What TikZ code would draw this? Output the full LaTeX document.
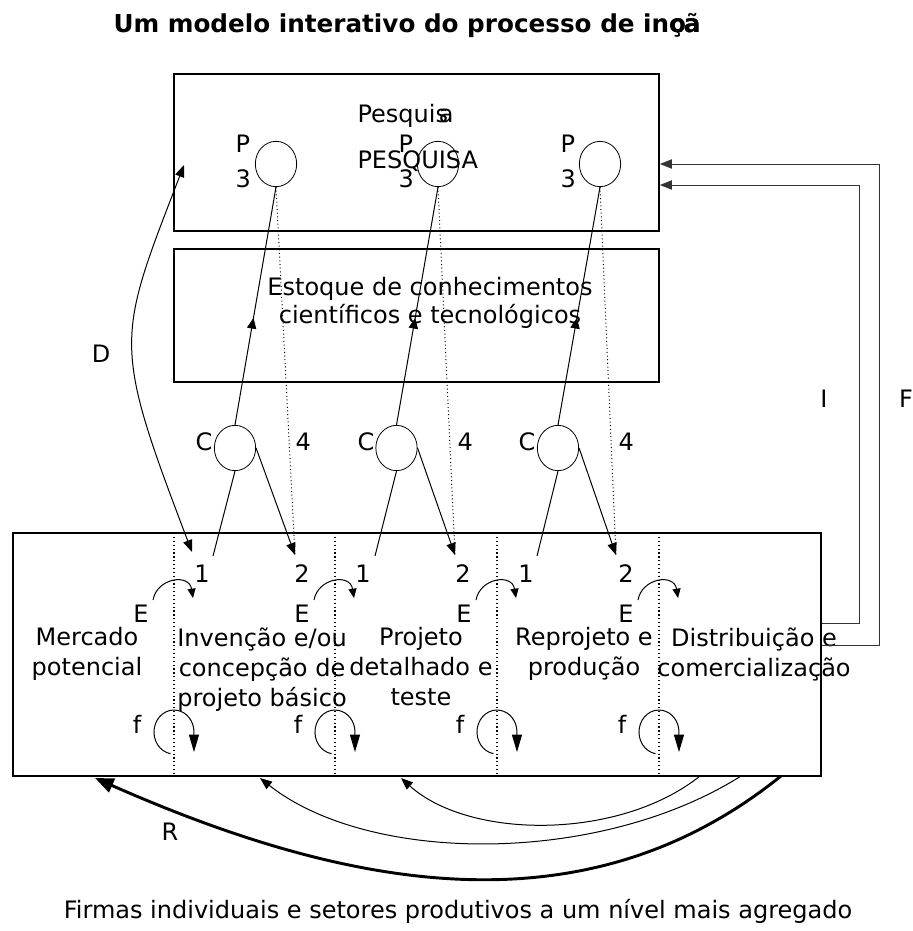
\documentclass[tikz,border=0pt]{standalone}
\usepackage{fontspec}
\setmainfont{DejaVu Sans}
\usetikzlibrary{arrows.meta,shapes.geometric,decorations.markings,positioning}

\begin{document}
\begin{tikzpicture}[x=0.75pt,y=-0.75pt,>={Triangle[length=9pt,width=7pt]},
    font=\fontsize{18}{22.5}\selectfont,line width=0.75pt,
    box/.style={draw,line width=1.4pt,inner sep=0},
    bubble/.style={draw,ellipse,line width=0.6pt,minimum width=31pt,minimum height=34pt,inner sep=0},
    lbl/.style={inner sep=0,anchor=base},
    stage/.style={inner sep=0,anchor=north,align=center},
    sep/.style={dotted,line width=0.9pt},
    fb/.style={draw=black!80,line width=0.7pt},
    smalltip/.style={-{Triangle[length=7pt,width=6pt]}},
    looptip/.style={-{Triangle[length=13pt,width=7.5pt]}},
    midarrow/.style={postaction={decorate},decoration={markings,mark=at position #1 with {\arrow{Triangle[length=8pt,width=7pt]}}}}]

  \useasboundingbox (0,0) rectangle (913,931);

  \node[lbl,anchor=base west,font=\fontsize{18.5}{22}\selectfont\bfseries] (title) at (113,33) {Um modelo interativo do processo de in\rlap{o}ç\rlap{ã}a};

  % caixas
  \node[box,minimum width=363.75pt,minimum height=117.75pt] (res) at (416.5,152.5) {};
  \node[box,minimum width=363.75pt,minimum height=99.75pt] (stock) at (416.5,315.5) {};
  \node[box,minimum width=606pt,minimum height=182.25pt] (firm) at (417,654.5) {};

  \node[lbl,anchor=base west] (pesq) at (357,122) {Pesqui\rlap{s}\kern2.5pt a};
  \node[lbl,anchor=base west] (PESQ) at (357,168) {PESQUISA};
  \node[stage,font=\fontsize{18}{21}\selectfont] (stocktxt) at (430,277) {Estoque de conhecimentos\\científicos e tecnológicos};

  % pesquisa
  \node[bubble] (p1) at (276,164) {};
  \node[bubble] (p2) at (438,164) {};
  \node[bubble] (p3) at (600,164) {};
  \node[inner sep=0,anchor=north west,align=left,font=\fontsize{18}{26.25}\selectfont] (pl1) at (235,134.5) {P\\3};
  \node[inner sep=0,anchor=north west,align=left,font=\fontsize{18}{26.25}\selectfont] (pl2) at (398,134.5) {P\\3};
  \node[inner sep=0,anchor=north west,align=left,font=\fontsize{18}{26.25}\selectfont] (pl3) at (560,134.5) {P\\3};

  % conhecimento
  \node[bubble] (c1) at (235,448) {};
  \node[bubble] (c2) at (396.5,448) {};
  \node[bubble] (c3) at (558,448) {};
  \node[lbl,anchor=base west] (cl1) at (195,450) {C};
  \node[lbl,anchor=base west] (cl2) at (357,450) {C};
  \node[lbl,anchor=base west] (cl3) at (518,450) {C};
  \node[lbl,anchor=base west] (q1) at (295,450) {4};
  \node[lbl,anchor=base west] (q2) at (457,450) {4};
  \node[lbl,anchor=base west] (q3) at (618,450) {4};

  % etapas
  \draw[sep] (174,537) -- (174,776);
  \draw[sep] (335,537) -- (335,776);
  \draw[sep] (497,537) -- (497,776);
  \draw[sep] (659,537) -- (659,776);

  \node[stage] (mercado) at (87,627) {Mercado\\potencial};
  \node[stage] (invencao) at (262,627) {Invenção e/ou\\concepção de\\projeto básico};
  \node[stage] (projeto) at (421,627) {Projeto\\detalhado e\\teste};
  \node[stage] (reproj) at (584,627) {Reprojeto e\\produção};
  \node[stage] (distrib) at (754,627) {Distribuição e\\comercialização};

  \node[lbl] (one1) at (202,582) {1};
  \node[lbl] (one2) at (363,582) {1};
  \node[lbl] (one3) at (526,582) {1};
  \node[lbl] (two1) at (302,582) {2};
  \node[lbl] (two2) at (463,582) {2};
  \node[lbl] (two3) at (626,582) {2};

  \coordinate (a1) at (213,556);
  \coordinate (a2) at (375,556);
  \coordinate (a3) at (537,556);
  \coordinate (b1) at (295,555);
  \coordinate (b2) at (455,555);
  \coordinate (b3) at (616,555);

  \draw[midarrow=0.45] (c1.north) -- (p1.south);
  \draw[midarrow=0.45] (c2.north) -- (p2.south);
  \draw[midarrow=0.45] (c3.north) -- (p3.south);
  \draw (c1.south) -- (a1);
  \draw (c2.south) -- (a2);
  \draw (c3.south) -- (a3);
  \draw[->] (c1.east) -- (b1);
  \draw[->] (c2.east) -- (b2);
  \draw[->] (c3.east) -- (b3);
  \draw[dotted] (p1.south) -- (b1);
  \draw[dotted] (p2.south) -- (b2);
  \draw[dotted] (p3.south) -- (b3);

  % D
  \coordinate (dtop) at (184,165);
  \coordinate (dbot) at (192,552);
  \draw[<->] (dbot) .. controls (112,342) and (116.5,340) .. (dtop);
  \node[lbl] (D) at (101,362) {D};

  % E
  \node[lbl] (e1) at (141,622) {E};
  \node[lbl] (e2) at (302,622) {E};
  \node[lbl] (e3) at (464,622) {E};
  \node[lbl] (e4) at (626,622) {E};
  \draw[smalltip] (153,600) .. controls (157,578) and (189,573) .. (193,598);
  \draw[smalltip] (314,600) .. controls (318,578) and (350,573) .. (354,598);
  \draw[smalltip] (476,600) .. controls (480,578) and (512,573) .. (516,598);
  \draw[smalltip] (638,600) .. controls (642,578) and (674,573) .. (678,598);

  % f
  \node[lbl] (f1) at (137,733) {f};
  \node[lbl] (f2) at (298,733) {f};
  \node[lbl] (f3) at (460,733) {f};
  \node[lbl] (f4) at (622,733) {f};
  \draw[looptip] (170.5,753.7) arc[start angle=100,end angle=360,x radius=20,y radius=22] -- ++(0,20);
  \draw[looptip] (331.5,753.7) arc[start angle=100,end angle=360,x radius=20,y radius=22] -- ++(0,20);
  \draw[looptip] (493.5,753.7) arc[start angle=100,end angle=360,x radius=20,y radius=22] -- ++(0,20);
  \draw[looptip] (655.5,753.7) arc[start angle=100,end angle=360,x radius=20,y radius=22] -- ++(0,20);

  % I e F
  \draw[fb,->] (firm.east |- 0,623) -| (859,185) -- (res.east |- 0,185);
  \draw[fb,->] (firm.east |- 0,645) -| (879,164) -- (res.east |- 0,164);
  \node[lbl] (I) at (824,407) {I};
  \node[lbl] (F) at (906,407) {F};

  % R
  \coordinate (rs1) at (700,776);
  \coordinate (rs2) at (741,776);
  \coordinate (rs3) at (781,776);
  \coordinate (re1) at (401,778);
  \coordinate (re2) at (260,778);
  \coordinate (re3) at (95,778);
  \draw[->] (rs1) .. controls (620,840) and (470,840) .. (re1);
  \draw[->] (rs2) .. controls (600,865) and (370,865) .. (re2);
  \draw[-{Triangle[length=14pt,width=11pt]},line width=2.2pt] (rs3) .. controls (590,930) and (360,895) .. (re3);
  \node[lbl] (R) at (170,840) {R};

  \node[lbl] (firmas) at (458,918) {Firmas individuais e setores produtivos a um nível mais agregado};
\end{tikzpicture}
\end{document}
